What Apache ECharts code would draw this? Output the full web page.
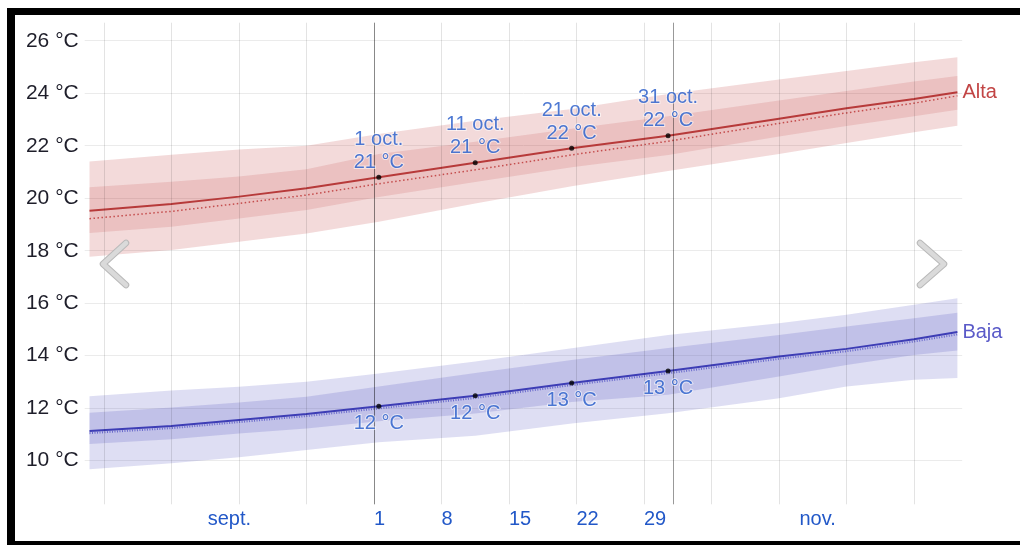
<!DOCTYPE html>
<html><head><meta charset="utf-8">
<script src="https://cdn.jsdelivr.net/npm/echarts@6/dist/echarts.min.js"></script>
<style>html,body{margin:0;padding:0;background:#fff}#c{width:1020px;height:545px}</style>
</head><body><div id="c"></div>
<script>
// Days since 1 September (0 = start of 1 sept.)
const days      = [0.5, 9, 16, 23, 30.5, 40.5, 50.5, 60.5, 72, 79, 86, 90.5];
// Alta (daily high)
const highAvg   = [19.52, 19.78, 20.06, 20.38, 20.80, 21.35, 21.90, 22.38, 23.03, 23.43, 23.78, 24.04];
const highFeels = [19.22, 19.50, 19.80, 20.12, 20.55, 21.08, 21.65, 22.17, 22.85, 23.25, 23.62, 23.90];
const highP90   = [21.40, 21.66, 21.86, 22.00, 22.45, 22.95, 23.40, 23.97, 24.52, 24.85, 25.18, 25.37];
const highP75   = [20.42, 20.63, 20.83, 21.10, 21.68, 22.15, 22.65, 23.12, 23.72, 24.08, 24.45, 24.66];
const highP25   = [18.67, 18.91, 19.23, 19.55, 20.05, 20.62, 21.18, 21.65, 22.35, 22.75, 23.12, 23.37];
const highP10   = [17.77, 18.03, 18.34, 18.66, 19.10, 19.80, 20.46, 21.04, 21.68, 22.10, 22.51, 22.76];
// Baja (daily low)
const lowAvg    = [11.13, 11.32, 11.55, 11.78, 12.07, 12.47, 12.96, 13.42, 13.97, 14.26, 14.63, 14.90];
const lowFeels  = [11.05, 11.24, 11.47, 11.70, 11.99, 12.39, 12.88, 13.33, 13.88, 14.17, 14.54, 14.81];
const lowP90    = [12.46, 12.67, 12.82, 13.01, 13.32, 13.78, 14.28, 14.79, 15.24, 15.56, 15.94, 16.19];
const lowP75    = [11.83, 12.03, 12.22, 12.44, 12.83, 13.34, 13.84, 14.29, 14.79, 15.11, 15.43, 15.64];
const lowP25    = [10.64, 10.82, 11.04, 11.23, 11.50, 11.80, 12.24, 12.51, 13.21, 13.65, 14.03, 14.20];
const lowP10    = [9.67, 9.90, 10.13, 10.41, 10.70, 10.95, 11.42, 11.81, 12.38, 12.83, 13.08, 13.15];
// Annotated points
const markIdx   = [4, 5, 6, 7];
const markDates = ['1 oct.', '11 oct.', '21 oct.', '31 oct.'];
// Axes
const yTicks = [10, 12, 14, 16, 18, 20, 22, 24, 26];
const monthTickDays = [15, 76];
const monthTickLabels = ['sept.', 'nov.'];
const dayTickDays = [30, 37, 44, 51, 58];
const dayTickLabels = ['1', '8', '15', '22', '29'];
const weekGridDays = [2, 9, 16, 23, 30, 37, 44, 51, 58, 65, 72, 79, 86];
const monthGridDays = [30, 61];

const FONT = 'Arial, "Liberation Sans", Helvetica, sans-serif';
const LABEL_BLUE = '#2258c8';
const pairs = vals => days.map((d, i) => [d, vals[i]]);

// Band drawn as one polygon through the chart's own coordinate system
function band(name, lower, upper, color) {
  return {
    type: 'custom', name, silent: true, z: 1, clip: true,
    data: days.map((d, i) => [d, lower[i], upper[i]]),
    encode: {x: 0, y: [1, 2]},
    renderItem: (params, api) => {
      if (params.dataIndex !== 0) return null;
      const top = days.map((d, i) => api.coord([d, upper[i]]));
      const bot = days.map((d, i) => api.coord([d, lower[i]])).reverse();
      return {type: 'polygon', shape: {points: top.concat(bot)}, style: {fill: color}};
    }
  };
}

const chart = echarts.init(document.getElementById('c'), null, {renderer: 'canvas'});

const xBase = {
  type: 'value', min: 0, max: 91, gridIndex: 0, position: 'bottom',
  axisLine: {show: false}, axisTick: {show: false}, splitLine: {show: false}
};

const option = {
  animation: false,
  backgroundColor: '#fff',
  textStyle: {fontFamily: FONT},
  grid: {left: 84.7, right: 57.8, top: 22.7, bottom: 40.7, containLabel: false, outerBoundsMode: 'none'},
  xAxis: [
    Object.assign({}, xBase, {
      axisLabel: {customValues: monthTickDays, formatter: v => monthTickLabels[monthTickDays.indexOf(v)],
                  color: LABEL_BLUE, fontSize: 20, fontFamily: FONT, margin: 5, align: 'center'}
    }),
    Object.assign({}, xBase, {
      axisLabel: {customValues: dayTickDays, formatter: v => dayTickLabels[dayTickDays.indexOf(v)],
                  color: LABEL_BLUE, fontSize: 20, fontFamily: FONT, margin: 5, align: 'left'}
    })
  ],
  yAxis: {
    type: 'value', min: 8.339, max: 26.686, minInterval: 2, maxInterval: 2, splitNumber: 9,
    axisLine: {show: false}, axisTick: {show: false},
    splitLine: {show: true, showMinLine: false, showMaxLine: false, lineStyle: {color: '#ebebeb', width: 1}},
    axisLabel: {formatter: v => (yTicks.indexOf(v) >= 0 ? v + ' °C' : ''), color: '#1e1e2a',
                fontSize: 21, fontFamily: FONT, margin: 6, showMinLabel: false, showMaxLabel: false}
  },
  series: [
    band('highOuter', highP10, highP90, 'rgba(190,60,60,0.19)'),
    band('highInner', highP25, highP75, 'rgba(190,60,60,0.16)'),
    band('lowOuter', lowP10, lowP90, 'rgba(80,80,190,0.19)'),
    band('lowInner', lowP25, lowP75, 'rgba(80,80,190,0.2)'),
    {type: 'line', name: 'highFeels', data: pairs(highFeels), symbol: 'none', silent: true, z: 3,
     lineStyle: {color: '#c44c4c', width: 1.5, type: [1.5, 2.5]}},
    {type: 'line', name: 'lowFeels', data: pairs(lowFeels), symbol: 'none', silent: true, z: 3,
     lineStyle: {color: '#6a6acc', width: 2, type: [1, 1.5]}},
    {type: 'line', name: 'Alta', data: pairs(highAvg), symbol: 'none', silent: true, z: 4,
     lineStyle: {color: '#b73a3a', width: 2},
     endLabel: {show: true, formatter: 'Alta', color: '#c24545', fontSize: 20, fontFamily: FONT, distance: 5,
                textBorderColor: 'rgba(255,255,255,0.8)', textBorderWidth: 2},
     markLine: {silent: true, symbol: 'none', label: {show: false}, animation: false,
       data: weekGridDays.map(d => ({xAxis: d, lineStyle: {color: 'rgba(0,0,0,0.11)', width: 1, type: 'solid'}}))
         .concat(monthGridDays.map(d => ({xAxis: d, lineStyle: {color: 'rgba(0,0,0,0.4)', width: 1, type: 'solid'}})))}
    },
    {type: 'line', name: 'Baja', data: pairs(lowAvg), symbol: 'none', silent: true, z: 4,
     lineStyle: {color: '#3d3db5', width: 2},
     endLabel: {show: true, formatter: 'Baja', color: '#5a5ac8', fontSize: 20, fontFamily: FONT, distance: 5,
                textBorderColor: 'rgba(255,255,255,0.8)', textBorderWidth: 2}},
    {type: 'scatter', name: 'highMarks', z: 6, symbolSize: 5, itemStyle: {color: '#000'},
     data: markIdx.map((k, j) => ({value: [days[k], highAvg[k]], date: markDates[j]})),
     label: {show: true, position: 'top', distance: 1, fontSize: 20, lineHeight: 23, fontFamily: FONT,
             color: LABEL_BLUE, textBorderColor: 'rgba(255,255,255,0.7)', textBorderWidth: 2, align: 'center',
             formatter: p => p.data.date + '\n' + Math.round(p.data.value[1]) + ' °C'}},
    {type: 'scatter', name: 'lowMarks', z: 6, symbolSize: 5, itemStyle: {color: '#000'},
     data: markIdx.map(k => [days[k], lowAvg[k]]),
     label: {show: true, position: 'bottom', distance: 5, fontSize: 20, lineHeight: 20, fontFamily: FONT,
             color: LABEL_BLUE, textBorderColor: 'rgba(255,255,255,0.7)', textBorderWidth: 2, align: 'center',
             formatter: p => Math.round(p.value[1]) + ' °C'}}
  ],
  graphic: [
    {type: 'rect', z: 100, silent: true, shape: {x: 7, y: 8, width: 1013, height: 7}, style: {fill: '#000'}},
    {type: 'rect', z: 100, silent: true, shape: {x: 7, y: 8, width: 8, height: 537}, style: {fill: '#000'}},
    {type: 'rect', z: 100, silent: true, shape: {x: 7, y: 541, width: 1013, height: 4}, style: {fill: '#000'}},
    {type: 'polyline', z: 90, silent: true, shape: {points: [[126, 243], [103, 264], [126, 285]]},
     style: {stroke: '#b9b9b9', lineWidth: 6.5, lineCap: 'round', lineJoin: 'round', fill: null}},
    {type: 'polyline', z: 91, silent: true, shape: {points: [[126, 243], [103, 264], [126, 285]]},
     style: {stroke: '#dadada', lineWidth: 4.5, lineCap: 'round', lineJoin: 'round', fill: null}},
    {type: 'polyline', z: 90, silent: true, shape: {points: [[920, 243], [944, 264], [920, 285]]},
     style: {stroke: '#b9b9b9', lineWidth: 6.5, lineCap: 'round', lineJoin: 'round', fill: null}},
    {type: 'polyline', z: 91, silent: true, shape: {points: [[920, 243], [944, 264], [920, 285]]},
     style: {stroke: '#dadada', lineWidth: 4.5, lineCap: 'round', lineJoin: 'round', fill: null}}
  ]
};
chart.setOption(option);
</script>
</body></html>
